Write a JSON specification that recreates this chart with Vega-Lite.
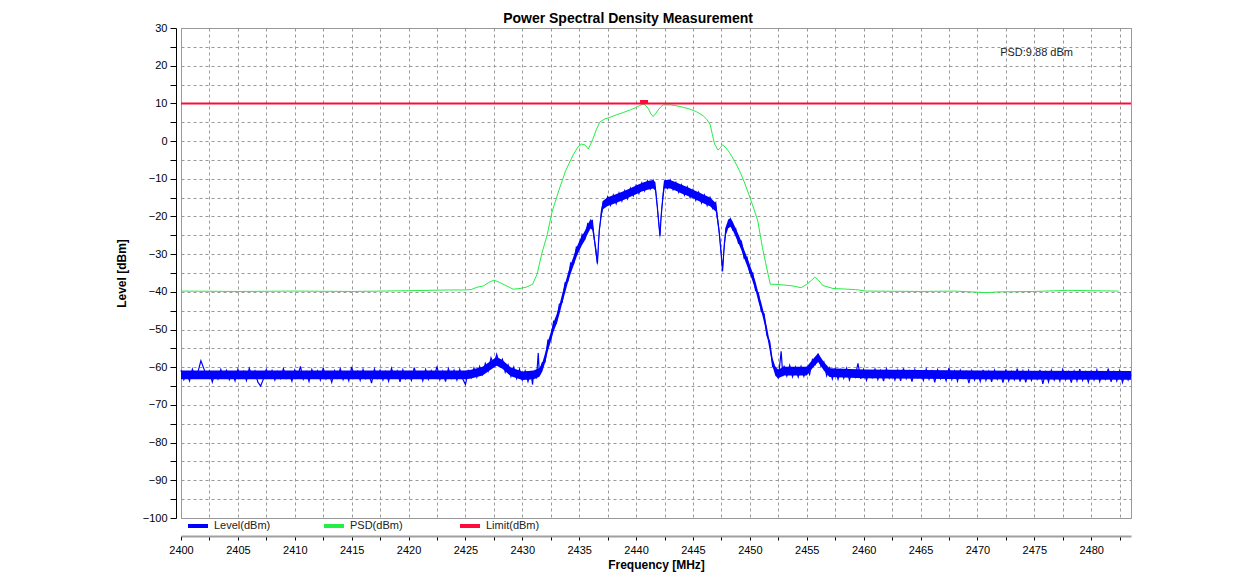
{
  "$schema": "https://vega.github.io/schema/vega-lite/v6.json",
  "width": 950,
  "height": 490,
  "autosize": {"type": "none"},
  "padding": {"left": 181, "top": 28, "right": 116, "bottom": 58},
  "background": "white",
  "title": {"text": "Power Spectral Density Measurement", "font": "Liberation Sans", "fontSize": 14, "fontWeight": "bold", "color": "#000000", "anchor": "middle", "dx": -28, "offset": -4},
  "config": {"view": {"stroke": "#999999", "strokeWidth": 1}, "font": "Liberation Sans"},
  "datasets": {
    "band": [
      {"f":2400,"hi":-60.9,"lo":-63.2},{"f":2425,"hi":-60.9,"lo":-63.2},{"f":2425.5,"hi":-60.7,"lo":-63.0},{"f":2426.5,"hi":-59.9,"lo":-62.2},
      {"f":2427.25,"hi":-58.3,"lo":-60.6},{"f":2427.75,"hi":-57.3,"lo":-59.6},{"f":2428.25,"hi":-58.1,"lo":-60.4},{"f":2429,"hi":-60.1,"lo":-62.4},
      {"f":2430,"hi":-61.1,"lo":-63.4},{"f":2431,"hi":-60.9,"lo":-63.2},{"f":2431.5,"hi":-60.2,"lo":-62.5},{"f":2431.75,"hi":-58.9,"lo":-61.2},
      {"f":2432,"hi":-56.3,"lo":-58.8},{"f":2432.25,"hi":-53.2,"lo":-55.7},{"f":2432.5,"hi":-50.7,"lo":-53.2},{"f":2432.75,"hi":-48.0,"lo":-50.5},
      {"f":2433,"hi":-46.1,"lo":-48.6},{"f":2433.25,"hi":-43.6,"lo":-46.1},{"f":2433.5,"hi":-40.6,"lo":-43.1},{"f":2433.75,"hi":-37.9,"lo":-40.4},
      {"f":2434,"hi":-35.1,"lo":-37.6},{"f":2434.25,"hi":-32.7,"lo":-35.2},{"f":2434.5,"hi":-30.6,"lo":-33.1},{"f":2434.75,"hi":-28.4,"lo":-30.9},
      {"f":2435,"hi":-26.6,"lo":-29.1},{"f":2435.25,"hi":-25.1,"lo":-27.6},{"f":2435.5,"hi":-23.8,"lo":-26.3},{"f":2435.75,"hi":-22.1,"lo":-24.6},
      {"f":2436,"hi":-20.7,"lo":-23.2},{"f":2436.15,"hi":-21.3,"lo":-23.6},{"f":2436.3,"hi":-24.1,"lo":-26.4},{"f":2436.45,"hi":-27.9,"lo":-30.2},
      {"f":2436.6,"hi":-30.9,"lo":-33.2},{"f":2436.75,"hi":-23.9,"lo":-26.2},{"f":2436.9,"hi":-18.5,"lo":-20.8},{"f":2437.1,"hi":-15.8,"lo":-18.1},
      {"f":2437.5,"hi":-14.9,"lo":-17.2},{"f":2438,"hi":-14.4,"lo":-16.7},{"f":2438.5,"hi":-13.8,"lo":-16.1},{"f":2439,"hi":-13.2,"lo":-15.5},
      {"f":2439.5,"hi":-12.5,"lo":-14.8},{"f":2440,"hi":-11.8,"lo":-14.1},{"f":2440.5,"hi":-11.1,"lo":-13.4},{"f":2441,"hi":-10.6,"lo":-12.9},
      {"f":2441.5,"hi":-10.3,"lo":-12.6},{"f":2441.7,"hi":-10.9,"lo":-13.2},{"f":2441.85,"hi":-15.8,"lo":-18.1},{"f":2442.0,"hi":-20.8,"lo":-23.1},
      {"f":2442.1,"hi":-23.8,"lo":-26.1},{"f":2442.2,"hi":-18.8,"lo":-21.1},{"f":2442.35,"hi":-13.8,"lo":-16.1},{"f":2442.5,"hi":-10.3,"lo":-12.6},
      {"f":2443,"hi":-10.3,"lo":-12.6},{"f":2443.5,"hi":-10.9,"lo":-13.2},{"f":2444,"hi":-11.6,"lo":-13.9},{"f":2444.5,"hi":-12.2,"lo":-14.5},
      {"f":2445,"hi":-12.9,"lo":-15.2},{"f":2445.5,"hi":-13.6,"lo":-15.9},{"f":2446,"hi":-14.3,"lo":-16.6},{"f":2446.5,"hi":-15.0,"lo":-17.3},
      {"f":2447.0,"hi":-16.4,"lo":-18.7},{"f":2447.15,"hi":-19.3,"lo":-21.6},{"f":2447.3,"hi":-22.8,"lo":-25.1},{"f":2447.45,"hi":-27.8,"lo":-30.1},
      {"f":2447.6,"hi":-32.8,"lo":-35.1},{"f":2447.75,"hi":-26.8,"lo":-29.1},{"f":2447.9,"hi":-22.6,"lo":-24.9},{"f":2448.1,"hi":-20.8,"lo":-23.1},
      {"f":2448.3,"hi":-20.4,"lo":-22.7},{"f":2448.5,"hi":-21.4,"lo":-23.7},{"f":2448.75,"hi":-23.1,"lo":-25.4},{"f":2449,"hi":-24.8,"lo":-27.1},
      {"f":2449.25,"hi":-26.6,"lo":-28.9},{"f":2449.5,"hi":-28.8,"lo":-31.1},{"f":2449.75,"hi":-30.8,"lo":-33.1},{"f":2450,"hi":-32.8,"lo":-35.1},
      {"f":2450.25,"hi":-35.0,"lo":-37.3},{"f":2450.5,"hi":-37.3,"lo":-39.6},{"f":2450.75,"hi":-40.3,"lo":-42.6},{"f":2451,"hi":-42.8,"lo":-45.1},
      {"f":2451.25,"hi":-45.8,"lo":-48.1},{"f":2451.5,"hi":-49.3,"lo":-51.6},{"f":2451.75,"hi":-53.3,"lo":-55.6},{"f":2452,"hi":-57.6,"lo":-59.9},
      {"f":2452.25,"hi":-60.0,"lo":-62.3},{"f":2452.5,"hi":-60.6,"lo":-62.9},{"f":2453,"hi":-59.9,"lo":-62.2},{"f":2455,"hi":-59.9,"lo":-62.2},
      {"f":2455.5,"hi":-58.0,"lo":-60.3},{"f":2456,"hi":-56.3,"lo":-58.6},{"f":2456.5,"hi":-58.6,"lo":-60.9},{"f":2457,"hi":-60.3,"lo":-62.6},
      {"f":2460,"hi":-60.6,"lo":-62.9},{"f":2470,"hi":-60.9,"lo":-63.2},{"f":2483.5,"hi":-61.0,"lo":-63.3}
    ],
    "level": [
      {"f":2400.00,"v":-60.8},{"f":2400.25,"v":-63.3},{"f":2400.50,"v":-61.5},{"f":2400.75,"v":-63.6},{"f":2401.00,"v":-60.5},{"f":2401.25,"v":-62.8},{"f":2401.50,"v":-61.1},{"f":2401.75,"v":-58.3},
      {"f":2402.00,"v":-60.3},{"f":2402.25,"v":-62.4},{"f":2402.50,"v":-61.0},{"f":2402.75,"v":-63.9},{"f":2403.00,"v":-61.4},{"f":2403.25,"v":-63.1},{"f":2403.50,"v":-60.6},{"f":2403.75,"v":-62.7},
      {"f":2404.00,"v":-60.8},{"f":2404.25,"v":-63.3},{"f":2404.50,"v":-61.5},{"f":2404.75,"v":-63.6},{"f":2405.00,"v":-60.5},{"f":2405.25,"v":-62.8},{"f":2405.50,"v":-61.1},{"f":2405.75,"v":-63.5},
      {"f":2406.00,"v":-60.3},{"f":2406.25,"v":-62.4},{"f":2406.50,"v":-61.0},{"f":2406.75,"v":-63.9},{"f":2407.00,"v":-65.0},{"f":2407.25,"v":-63.1},{"f":2407.50,"v":-60.6},{"f":2407.75,"v":-62.7},
      {"f":2408.00,"v":-60.9},{"f":2408.25,"v":-63.4},{"f":2408.50,"v":-61.2},{"f":2408.75,"v":-63.0},{"f":2409.00,"v":-60.4},{"f":2409.25,"v":-62.9},{"f":2409.50,"v":-61.6},{"f":2409.75,"v":-63.7},
      {"f":2410.00,"v":-60.7},{"f":2410.25,"v":-62.5},{"f":2410.50,"v":-59.8},{"f":2410.75,"v":-63.2},{"f":2411.00,"v":-61.3},{"f":2411.25,"v":-63.8},{"f":2411.50,"v":-60.6},{"f":2411.75,"v":-62.6},
      {"f":2412.00,"v":-61.0},{"f":2412.25,"v":-63.4},{"f":2412.50,"v":-60.2},{"f":2412.75,"v":-63.1},{"f":2413.00,"v":-61.5},{"f":2413.25,"v":-64.0},{"f":2413.50,"v":-60.9},{"f":2413.75,"v":-62.8},
      {"f":2414.00,"v":-60.4},{"f":2414.25,"v":-63.3},{"f":2414.50,"v":-61.4},{"f":2414.75,"v":-63.6},{"f":2415.00,"v":-59.9},{"f":2415.25,"v":-62.7},{"f":2415.50,"v":-61.1},{"f":2415.75,"v":-63.5},
      {"f":2416.00,"v":-60.6},{"f":2416.25,"v":-63.0},{"f":2416.50,"v":-61.7},{"f":2416.75,"v":-64.2},{"f":2417.00,"v":-60.5},{"f":2417.25,"v":-62.9},{"f":2417.50,"v":-60.8},{"f":2417.75,"v":-63.4},
      {"f":2418.00,"v":-61.2},{"f":2418.25,"v":-63.7},{"f":2418.50,"v":-60.3},{"f":2418.75,"v":-62.6},{"f":2419.00,"v":-61.0},{"f":2419.25,"v":-63.9},{"f":2419.50,"v":-60.7},{"f":2419.75,"v":-63.1},
      {"f":2420.00,"v":-61.4},{"f":2420.25,"v":-63.5},{"f":2420.50,"v":-60.1},{"f":2420.75,"v":-62.8},{"f":2421.00,"v":-61.3},{"f":2421.25,"v":-63.6},{"f":2421.50,"v":-60.6},{"f":2421.75,"v":-63.2},
      {"f":2422.00,"v":-60.9},{"f":2422.25,"v":-62.7},{"f":2422.50,"v":-59.8},{"f":2422.75,"v":-63.3},{"f":2423.00,"v":-61.1},{"f":2423.25,"v":-63.8},{"f":2423.50,"v":-60.4},{"f":2423.75,"v":-62.9},
      {"f":2424.00,"v":-60.8},{"f":2424.25,"v":-63.4},{"f":2424.50,"v":-60.6},{"f":2424.75,"v":-63.0},{"f":2425.00,"v":-64.6},{"f":2425.25,"v":-61.0},{"f":2425.50,"v":-62.8},{"f":2425.75,"v":-60.2},
      {"f":2426.00,"v":-62.6},{"f":2426.25,"v":-59.8},{"f":2426.50,"v":-61.9},{"f":2426.75,"v":-59.0},{"f":2427.00,"v":-61.0},{"f":2427.25,"v":-57.5},{"f":2427.50,"v":-59.4},{"f":2427.75,"v":-56.6},
      {"f":2428.00,"v":-59.5},{"f":2428.25,"v":-57.9},{"f":2428.50,"v":-61.3},{"f":2428.75,"v":-59.4},{"f":2429.00,"v":-62.4},{"f":2429.25,"v":-60.0},{"f":2429.50,"v":-63.0},{"f":2429.75,"v":-60.5},
      {"f":2430.00,"v":-63.4},{"f":2430.25,"v":-61.0},{"f":2430.50,"v":-63.8},{"f":2430.75,"v":-61.2},{"f":2430.90,"v":-64.6},{"f":2431.00,"v":-61.0},{"f":2431.25,"v":-63.0},{"f":2431.40,"v":-56.2},
      {"f":2431.50,"v":-61.8},{"f":2431.75,"v":-58.8},{"f":2432.00,"v":-58.6},{"f":2432.25,"v":-52.8},{"f":2432.50,"v":-52.8},{"f":2432.75,"v":-47.8},{"f":2433.00,"v":-48.3},{"f":2433.25,"v":-43.3},
      {"f":2433.50,"v":-42.8},{"f":2433.75,"v":-37.6},{"f":2434.00,"v":-37.2},{"f":2434.25,"v":-32.3},{"f":2434.50,"v":-32.7},{"f":2434.75,"v":-28.1},{"f":2435.00,"v":-28.7},{"f":2435.25,"v":-24.8},
      {"f":2435.50,"v":-25.9},{"f":2435.75,"v":-21.9},{"f":2436.00,"v":-22.4},{"f":2436.15,"v":-20.9},{"f":2436.30,"v":-25.5},{"f":2436.45,"v":-28.5},{"f":2436.60,"v":-32.5},{"f":2436.75,"v":-24.0},
      {"f":2436.90,"v":-20.5},{"f":2437.10,"v":-16.0},{"f":2437.25,"v":-17.2},{"f":2437.50,"v":-14.8},{"f":2437.75,"v":-17.0},{"f":2438.00,"v":-14.3},{"f":2438.25,"v":-16.6},{"f":2438.50,"v":-13.8},
      {"f":2438.75,"v":-15.9},{"f":2439.00,"v":-13.2},{"f":2439.25,"v":-15.3},{"f":2439.50,"v":-12.5},{"f":2439.75,"v":-14.5},{"f":2440.00,"v":-11.8},{"f":2440.25,"v":-13.9},{"f":2440.50,"v":-11.1},
      {"f":2440.75,"v":-13.2},{"f":2441.00,"v":-10.6},{"f":2441.25,"v":-12.7},{"f":2441.50,"v":-10.5},{"f":2441.70,"v":-12.8},{"f":2441.85,"v":-17.0},{"f":2442.00,"v":-22.0},{"f":2442.10,"v":-25.2},
      {"f":2442.20,"v":-20.0},{"f":2442.35,"v":-15.0},{"f":2442.50,"v":-10.5},{"f":2442.75,"v":-12.5},{"f":2443.00,"v":-10.4},{"f":2443.25,"v":-12.9},{"f":2443.50,"v":-11.0},{"f":2443.75,"v":-13.6},
      {"f":2444.00,"v":-11.6},{"f":2444.25,"v":-14.3},{"f":2444.50,"v":-12.2},{"f":2444.75,"v":-15.0},{"f":2445.00,"v":-12.9},{"f":2445.25,"v":-15.7},{"f":2445.50,"v":-13.6},{"f":2445.75,"v":-16.4},
      {"f":2446.00,"v":-14.3},{"f":2446.25,"v":-17.1},{"f":2446.50,"v":-15.0},{"f":2446.75,"v":-17.9},{"f":2447.00,"v":-16.4},{"f":2447.15,"v":-20.5},{"f":2447.30,"v":-24.0},{"f":2447.45,"v":-29.0},
      {"f":2447.60,"v":-34.5},{"f":2447.75,"v":-27.5},{"f":2447.90,"v":-23.0},{"f":2448.10,"v":-22.8},{"f":2448.30,"v":-20.8},{"f":2448.50,"v":-23.6},{"f":2448.75,"v":-23.2},{"f":2449.00,"v":-27.1},
      {"f":2449.25,"v":-26.6},{"f":2449.50,"v":-31.1},{"f":2449.75,"v":-30.8},{"f":2450.00,"v":-35.1},{"f":2450.25,"v":-35.0},{"f":2450.50,"v":-39.6},{"f":2450.75,"v":-40.3},{"f":2451.00,"v":-45.2},
      {"f":2451.25,"v":-45.8},{"f":2451.50,"v":-51.6},{"f":2451.75,"v":-53.3},{"f":2452.00,"v":-59.8},{"f":2452.25,"v":-60.0},{"f":2452.50,"v":-63.0},{"f":2452.75,"v":-55.8},{"f":2452.90,"v":-62.4},
      {"f":2453.00,"v":-59.6},{"f":2453.25,"v":-62.3},{"f":2453.50,"v":-59.5},{"f":2453.75,"v":-62.5},{"f":2454.00,"v":-60.0},{"f":2454.25,"v":-62.6},{"f":2454.50,"v":-59.8},{"f":2454.75,"v":-62.4},
      {"f":2455.00,"v":-60.1},{"f":2455.25,"v":-61.9},{"f":2455.50,"v":-58.0},{"f":2455.75,"v":-59.2},{"f":2456.00,"v":-56.4},{"f":2456.25,"v":-59.8},{"f":2456.50,"v":-58.6},{"f":2456.75,"v":-62.3},
      {"f":2457.00,"v":-60.2},{"f":2457.25,"v":-63.1},{"f":2457.50,"v":-60.4},{"f":2457.75,"v":-63.2},{"f":2458.00,"v":-60.7},{"f":2458.25,"v":-62.9},{"f":2458.50,"v":-60.3},{"f":2458.75,"v":-63.4},
      {"f":2459.00,"v":-61.0},{"f":2459.25,"v":-62.6},{"f":2459.50,"v":-59.0},{"f":2459.75,"v":-63.1},{"f":2460.00,"v":-60.6},{"f":2460.25,"v":-63.5},{"f":2460.50,"v":-61.1},{"f":2460.75,"v":-62.8},
      {"f":2461.00,"v":-60.5},{"f":2461.25,"v":-63.3},{"f":2461.50,"v":-60.9},{"f":2461.75,"v":-63.7},{"f":2462.00,"v":-60.4},{"f":2462.25,"v":-62.9},{"f":2462.50,"v":-61.2},{"f":2462.75,"v":-63.4},
      {"f":2463.00,"v":-60.8},{"f":2463.25,"v":-63.6},{"f":2463.50,"v":-60.3},{"f":2463.75,"v":-63.0},{"f":2464.00,"v":-61.0},{"f":2464.25,"v":-63.8},{"f":2464.50,"v":-60.6},{"f":2464.75,"v":-62.7},
      {"f":2465.00,"v":-61.3},{"f":2465.25,"v":-63.5},{"f":2465.50,"v":-60.5},{"f":2465.75,"v":-63.2},{"f":2466.00,"v":-61.1},{"f":2466.25,"v":-64.0},{"f":2466.50,"v":-60.7},{"f":2466.75,"v":-63.1},
      {"f":2467.00,"v":-61.4},{"f":2467.25,"v":-63.6},{"f":2467.50,"v":-60.2},{"f":2467.75,"v":-63.3},{"f":2468.00,"v":-61.0},{"f":2468.25,"v":-63.7},{"f":2468.50,"v":-60.8},{"f":2468.75,"v":-62.9},
      {"f":2469.00,"v":-61.2},{"f":2469.25,"v":-64.2},{"f":2469.50,"v":-60.9},{"f":2469.75,"v":-63.4},{"f":2470.00,"v":-61.3},{"f":2470.25,"v":-63.8},{"f":2470.50,"v":-60.7},{"f":2470.75,"v":-63.5},
      {"f":2471.00,"v":-61.1},{"f":2471.25,"v":-63.9},{"f":2471.50,"v":-60.8},{"f":2471.75,"v":-63.2},{"f":2472.00,"v":-61.5},{"f":2472.25,"v":-64.1},{"f":2472.50,"v":-60.6},{"f":2472.75,"v":-63.6},
      {"f":2473.00,"v":-61.2},{"f":2473.25,"v":-63.3},{"f":2473.50,"v":-60.4},{"f":2473.75,"v":-63.8},{"f":2474.00,"v":-61.0},{"f":2474.25,"v":-64.0},{"f":2474.50,"v":-60.9},{"f":2474.75,"v":-63.5},
      {"f":2475.00,"v":-61.6},{"f":2475.25,"v":-63.2},{"f":2475.50,"v":-60.7},{"f":2475.75,"v":-64.4},{"f":2476.00,"v":-61.3},{"f":2476.25,"v":-63.9},{"f":2476.50,"v":-60.8},{"f":2476.75,"v":-63.4},
      {"f":2477.00,"v":-61.4},{"f":2477.25,"v":-63.7},{"f":2477.50,"v":-60.6},{"f":2477.75,"v":-63.3},{"f":2478.00,"v":-61.2},{"f":2478.25,"v":-64.1},{"f":2478.50,"v":-61.0},{"f":2478.75,"v":-63.6},
      {"f":2479.00,"v":-60.5},{"f":2479.25,"v":-63.5},{"f":2479.50,"v":-61.3},{"f":2479.75,"v":-64.0},{"f":2480.00,"v":-61.1},{"f":2480.25,"v":-63.4},{"f":2480.50,"v":-60.7},{"f":2480.75,"v":-63.8},
      {"f":2481.00,"v":-61.5},{"f":2481.25,"v":-63.2},{"f":2481.50,"v":-60.4},{"f":2481.75,"v":-63.9},{"f":2482.00,"v":-61.2},{"f":2482.25,"v":-63.6},{"f":2482.50,"v":-60.9},{"f":2482.75,"v":-64.0},
      {"f":2483.00,"v":-61.4},{"f":2483.25,"v":-63.4},{"f":2483.50,"v":-62.0}
    ],
    "psd": [
      {"f":2400,"v":-39.8},{"f":2405,"v":-39.9},{"f":2410,"v":-39.8},{"f":2415,"v":-39.9},{"f":2420,"v":-39.7},{"f":2423.5,"v":-39.5},{"f":2425,"v":-39.5},{"f":2425.5,"v":-39.4},
      {"f":2426,"v":-38.8},{"f":2426.6,"v":-38.4},{"f":2427,"v":-37.6},{"f":2427.5,"v":-36.9},{"f":2428,"v":-37.5},{"f":2428.4,"v":-38.1},{"f":2429.2,"v":-39.3},{"f":2429.8,"v":-39.1},
      {"f":2430.4,"v":-38.7},{"f":2430.9,"v":-38.0},{"f":2431.3,"v":-35.3},{"f":2431.7,"v":-30.0},{"f":2432.2,"v":-24.7},{"f":2432.6,"v":-18.9},{"f":2433.2,"v":-13.2},{"f":2433.8,"v":-7.9},
      {"f":2434.5,"v":-3.5},{"f":2434.9,"v":-1.5},{"f":2435.2,"v":-0.8},{"f":2435.5,"v":-1.0},{"f":2435.8,"v":-2.1},{"f":2436.2,"v":0.5},{"f":2436.5,"v":3.0},{"f":2436.8,"v":5.0},
      {"f":2437.2,"v":5.8},{"f":2437.7,"v":6.3},{"f":2438.3,"v":7.0},{"f":2438.9,"v":7.6},{"f":2439.5,"v":8.3},{"f":2440,"v":8.9},{"f":2440.3,"v":9.4},{"f":2440.6,"v":9.8},
      {"f":2440.8,"v":9.6},{"f":2441.1,"v":8.5},{"f":2441.3,"v":7.2},{"f":2441.5,"v":6.5},{"f":2441.7,"v":7.2},{"f":2441.9,"v":8.1},{"f":2442.2,"v":9.2},{"f":2442.4,"v":9.6},
      {"f":2443,"v":9.6},{"f":2443.5,"v":9.4},{"f":2444.1,"v":9.0},{"f":2444.7,"v":8.5},{"f":2445.3,"v":7.8},{"f":2445.9,"v":6.7},{"f":2446.2,"v":5.8},{"f":2446.5,"v":4.5},
      {"f":2446.7,"v":1.8},{"f":2446.9,"v":-0.8},{"f":2447.2,"v":-2.4},{"f":2447.4,"v":-1.8},{"f":2447.6,"v":-1.0},{"f":2447.9,"v":-1.8},{"f":2448.2,"v":-3.0},{"f":2448.6,"v":-5.0},
      {"f":2449.1,"v":-7.9},{"f":2449.5,"v":-10.8},{"f":2449.9,"v":-14.1},{"f":2450.3,"v":-17.5},{"f":2450.7,"v":-21.2},{"f":2451.1,"v":-28.2},{"f":2451.4,"v":-32.5},{"f":2451.6,"v":-35.3},
      {"f":2451.8,"v":-38.0},{"f":2452.3,"v":-38.0},{"f":2453,"v":-38.2},{"f":2453.7,"v":-38.4},{"f":2454.5,"v":-38.9},{"f":2455,"v":-38.0},{"f":2455.4,"v":-37.0},{"f":2455.7,"v":-36.1},
      {"f":2456,"v":-36.8},{"f":2456.4,"v":-38.3},{"f":2457.3,"v":-39.1},{"f":2459.3,"v":-39.4},{"f":2460.2,"v":-39.8},{"f":2465,"v":-39.9},{"f":2468,"v":-39.8},{"f":2470.8,"v":-40.2},
      {"f":2472,"v":-40.0},{"f":2475,"v":-39.9},{"f":2478,"v":-39.6},{"f":2480,"v":-39.7},{"f":2482.4,"v":-39.8}
    ],
    "limit": [{"f":2400,"v":10},{"f":2483.5,"v":10}],
    "peak": [{"f":2440.7,"v":10.5}],
    "note": [{"f":2472.0,"v":23.5,"label":"PSD:9.88 dBm"}]
  },
  "encoding": {
    "x": {"field": "f", "type": "quantitative",
      "scale": {"domain": [2400, 2483.5], "nice": false, "zero": false},
      "axis": {
        "values": [2400,2402.5,2405,2407.5,2410,2412.5,2415,2417.5,2420,2422.5,2425,2427.5,2430,2432.5,2435,2437.5,2440,2442.5,2445,2447.5,2450,2452.5,2455,2457.5,2460,2462.5,2465,2467.5,2470,2472.5,2475,2477.5,2480,2482.5],
        "labelExpr": "datum.value % 5 == 0 ? format(datum.value, 'd') : ''",
        "labelOverlap": false, "labelFlush": false,
        "grid": true, "gridDash": [3, 3], "gridColor": "#999999", "gridWidth": 1,
        "offset": 18, "domainColor": "#a0a0a0", "domainWidth": 2,
        "tickColor": "#000000", "tickSize": 4, "tickWidth": 1,
        "labelFont": "Liberation Sans", "labelFontSize": 11, "labelColor": "#000000", "labelPadding": 4,
        "title": "Frequency [MHz]", "titleFont": "Liberation Sans", "titleFontSize": 12, "titleFontWeight": "bold", "titleColor": "#000000", "titlePadding": 4
      }
    },
    "y": {"field": "v", "type": "quantitative",
      "scale": {"domain": [-100, 30], "nice": false, "zero": false},
      "axis": {
        "values": [-100,-95,-90,-85,-80,-75,-70,-65,-60,-55,-50,-45,-40,-35,-30,-25,-20,-15,-10,-5,0,5,10,15,20,25,30],
        "labelExpr": "datum.value % 10 == 0 ? format(datum.value, 'd') : ''",
        "labelOverlap": false, "labelFlush": false,
        "grid": true, "gridDash": [3, 3], "gridColor": "#999999", "gridWidth": 1,
        "offset": 5, "domainColor": "#000000", "domainWidth": 1,
        "tickColor": "#000000", "tickSize": 6, "tickWidth": 1,
        "labelFont": "Liberation Sans", "labelFontSize": 11, "labelColor": "#000000", "labelPadding": 3,
        "title": "Level [dBm]", "titleFont": "Liberation Sans", "titleFontSize": 12, "titleFontWeight": "bold", "titleColor": "#000000", "titlePadding": 14
      }
    }
  },
  "layer": [
    {
      "data": {"name": "band"},
      "mark": {"type": "area", "color": "#0000ff", "opacity": 1},
      "encoding": {
        "y": {"field": "hi", "type": "quantitative"},
        "y2": {"field": "lo"}
      }
    },
    {
      "data": {"name": "level"},
      "mark": {"type": "line", "strokeWidth": 1.2, "interpolate": "linear"},
      "encoding": {
        "color": {"datum": "Level(dBm)", "type": "nominal",
          "scale": {"domain": ["Level(dBm)", "PSD(dBm)", "Limit(dBm)"], "range": ["#0000ff", "#22ee44", "#ff0a3c"]},
          "legend": {"orient": "none", "legendX": 5, "legendY": 486, "direction": "horizontal", "columns": 3, "gridAlign": "all", "columnPadding": 45,
            "symbolType": "stroke", "symbolStrokeWidth": 4, "symbolSize": 400,
            "labelFont": "Liberation Sans", "labelFontSize": 11, "labelColor": "#222222", "labelOffset": 4, "title": null, "padding": 0}
        }
      }
    },
    {
      "data": {"name": "psd"},
      "mark": {"type": "line", "strokeWidth": 1},
      "encoding": {
        "color": {"datum": "PSD(dBm)", "type": "nominal"}
      }
    },
    {
      "data": {"name": "limit"},
      "mark": {"type": "line", "strokeWidth": 2},
      "encoding": {
        "color": {"datum": "Limit(dBm)", "type": "nominal"}
      }
    },
    {
      "data": {"name": "peak"},
      "mark": {"type": "tick", "orient": "horizontal", "color": "#ff0a3c", "thickness": 3, "size": 8, "opacity": 1},
      "encoding": {}
    },
    {
      "data": {"name": "note"},
      "mark": {"type": "text", "align": "left", "baseline": "middle", "font": "Liberation Sans", "fontSize": 11, "color": "#222222"},
      "encoding": {
        "text": {"field": "label"}
      }
    }
  ]
}
